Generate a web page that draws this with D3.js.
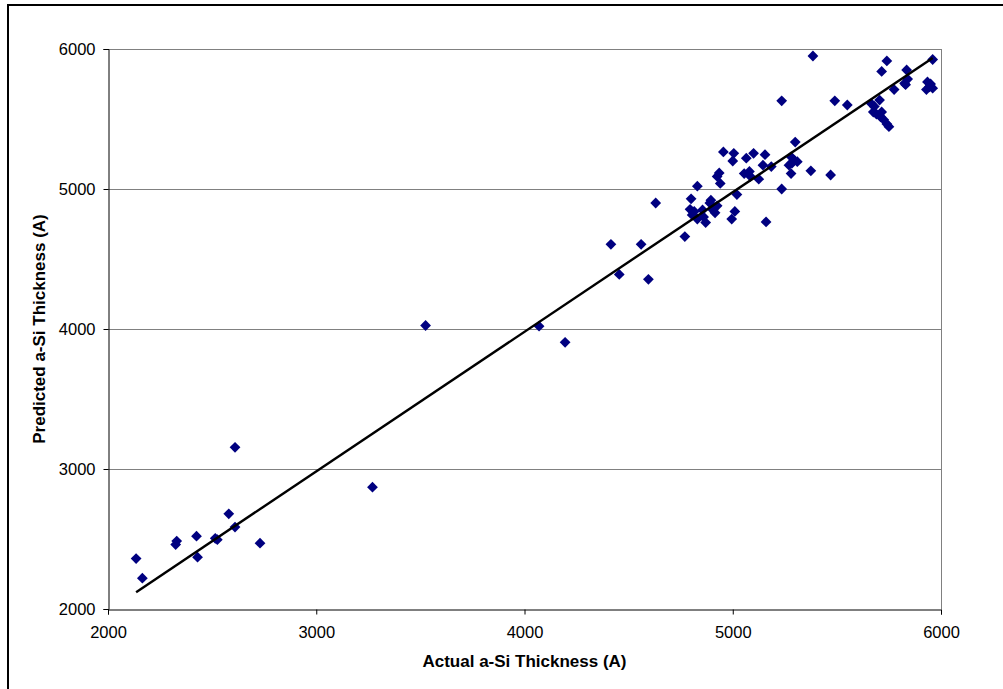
<!DOCTYPE html>
<html>
<head>
<meta charset="utf-8">
<script src="https://cdn.jsdelivr.net/npm/d3@7"></script>
<style>
  body { margin: 0; background: #fff; }
  svg { display: block; font-family: "Liberation Sans", Arial, sans-serif; }
  .tick text { font-size: 16.5px; fill: #000; }
  .title { font-size: 17px; font-weight: bold; fill: #000; }
</style>
</head>
<body>
<div id="chart"></div>
<script>
// Actual vs predicted a-Si thickness (A)
var actual = [
  2135, 2165, 2325, 2330, 2425, 2430, 2515, 2525, 2580, 2610, 2610, 2730,
  3270, 3525, 4070, 4195, 4415, 4455, 4560, 4595, 4630, 4770, 4800, 4795,
  4815, 4805, 4830, 4855, 4860, 4870, 4830, 4895, 4890, 4925, 4905, 4915,
  4935, 4925, 4940, 4955, 5005, 5000, 5020, 5010, 4995, 5055, 5080, 5085,
  5065, 5100, 5155, 5125, 5145, 5185, 5160, 5235, 5280, 5295, 5285, 5310,
  5270, 5300, 5280, 5375, 5470, 5235, 5385, 5490, 5550, 5665, 5680, 5675,
  5690, 5705, 5715, 5710, 5725, 5740, 5750, 5740, 5715, 5775, 5835, 5840,
  5825, 5830, 5935, 5950, 5930, 5960, 5945, 5960
]
var predicted = [
  2360, 2220, 2460, 2485, 2520, 2370, 2505, 2495, 2680, 2585, 3155, 2470,
  2870, 4025, 4020, 3905, 4605, 4390, 4605, 4355, 4900, 4660, 4930, 4855,
  4840, 4815, 4785, 4850, 4800, 4760, 5020, 4920, 4900, 4880, 4850, 4830,
  5115, 5090, 5040, 5265, 5255, 5200, 4960, 4840, 4785, 5110, 5125, 5090,
  5220, 5255, 5245, 5070, 5170, 5160, 4765, 5000, 5230, 5205, 5185, 5195,
  5170, 5335, 5110, 5130, 5100, 5630, 5950, 5630, 5600, 5610, 5590, 5550,
  5535, 5635, 5550, 5515, 5495, 5465, 5445, 5915, 5840, 5710, 5850, 5785,
  5755, 5745, 5765, 5750, 5710, 5720, 5730, 5925
]
// linear trendline end points
var trendX = [2135, 5960]
var trendY = [2120, 5935]

var xTicks = [2000, 3000, 4000, 5000, 6000]
var yTicks = [2000, 3000, 4000, 5000, 6000]
var xTitle = "Actual a-Si Thickness (A)"
var yTitle = "Predicted a-Si Thickness (A)"

var W = 1003, H = 689
var margin = { top: 49, left: 108, right: 62, bottom: 80 }
var width = W - margin.left - margin.right
var height = H - margin.top - margin.bottom

var svg = d3.select("#chart").append("svg")
  .attr("width", W)
  .attr("height", H)

// chart area frame
svg.append("rect")
  .attr("x", 8).attr("y", 5)
  .attr("width", W + 20).attr("height", H + 20)
  .attr("fill", "none")
  .attr("stroke", "#000")
  .attr("stroke-width", 2)

var g = svg.append("g")
  .attr("transform", "translate(" + margin.left + "," + margin.top + ")")

var x = d3.scaleLinear().domain([2000, 6000]).range([0, width])
var y = d3.scaleLinear().domain([2000, 6000]).range([height, 0])

// gridlines
g.append("g").attr("class", "grid")
  .selectAll("line")
  .data(yTicks.slice(1))
  .enter().append("line")
  .attr("x1", 0).attr("x2", width)
  .attr("y1", d => y(d) + 0.5).attr("y2", d => y(d) + 0.5)
  .attr("stroke", "#808080")

// plot area right border
g.append("line")
  .attr("x1", width + 0.5).attr("x2", width + 0.5)
  .attr("y1", 0).attr("y2", height)
  .attr("stroke", "#808080")

// axes
function xAxis(g) {
  g.call(d3.axisBottom(x).tickValues(xTicks).tickFormat(d3.format("d")).tickSizeOuter(0).tickSize(5).tickPadding(12))
  g.select(".domain").attr("stroke", "#000")
  g.selectAll(".tick line").attr("stroke", "#000")
}
function yAxis(g) {
  g.call(d3.axisLeft(y).tickValues(yTicks).tickFormat(d3.format("d")).tickSizeOuter(0).tickSize(5).tickPadding(8))
  g.select(".domain").attr("stroke", "#000")
  g.selectAll(".tick line").attr("stroke", "#000")
}

g.append("g").attr("class", "x axis")
  .attr("transform", "translate(0," + (height + 0.5) + ")")
  .call(xAxis)
g.append("g").attr("class", "y axis")
  .attr("transform", "translate(0.5,0)")
  .call(yAxis)

// points
var pts = actual.map((d, i) => ({ x: d, y: predicted[i] }))
g.append("g").attr("class", "points")
  .selectAll("path")
  .data(pts)
  .enter().append("path")
  .attr("d", d3.symbol().type(d3.symbolDiamond2).size(74))
  .attr("transform", d => "translate(" + x(d.x) + "," + y(d.y) + ")")
  .attr("fill", "#000080")

// trendline
g.append("line")
  .attr("x1", x(trendX[0])).attr("y1", y(trendY[0]))
  .attr("x2", x(trendX[1])).attr("y2", y(trendY[1]))
  .attr("stroke", "#000")
  .attr("stroke-width", 2.4)

// titles
svg.append("text")
  .attr("class", "title")
  .attr("x", margin.left + width / 2)
  .attr("y", 667)
  .attr("text-anchor", "middle")
  .text(xTitle)

svg.append("text")
  .attr("class", "title")
  .attr("transform", "translate(45," + (margin.top + height / 2) + ") rotate(-90)")
  .attr("text-anchor", "middle")
  .text(yTitle)
</script>
</body>
</html>
